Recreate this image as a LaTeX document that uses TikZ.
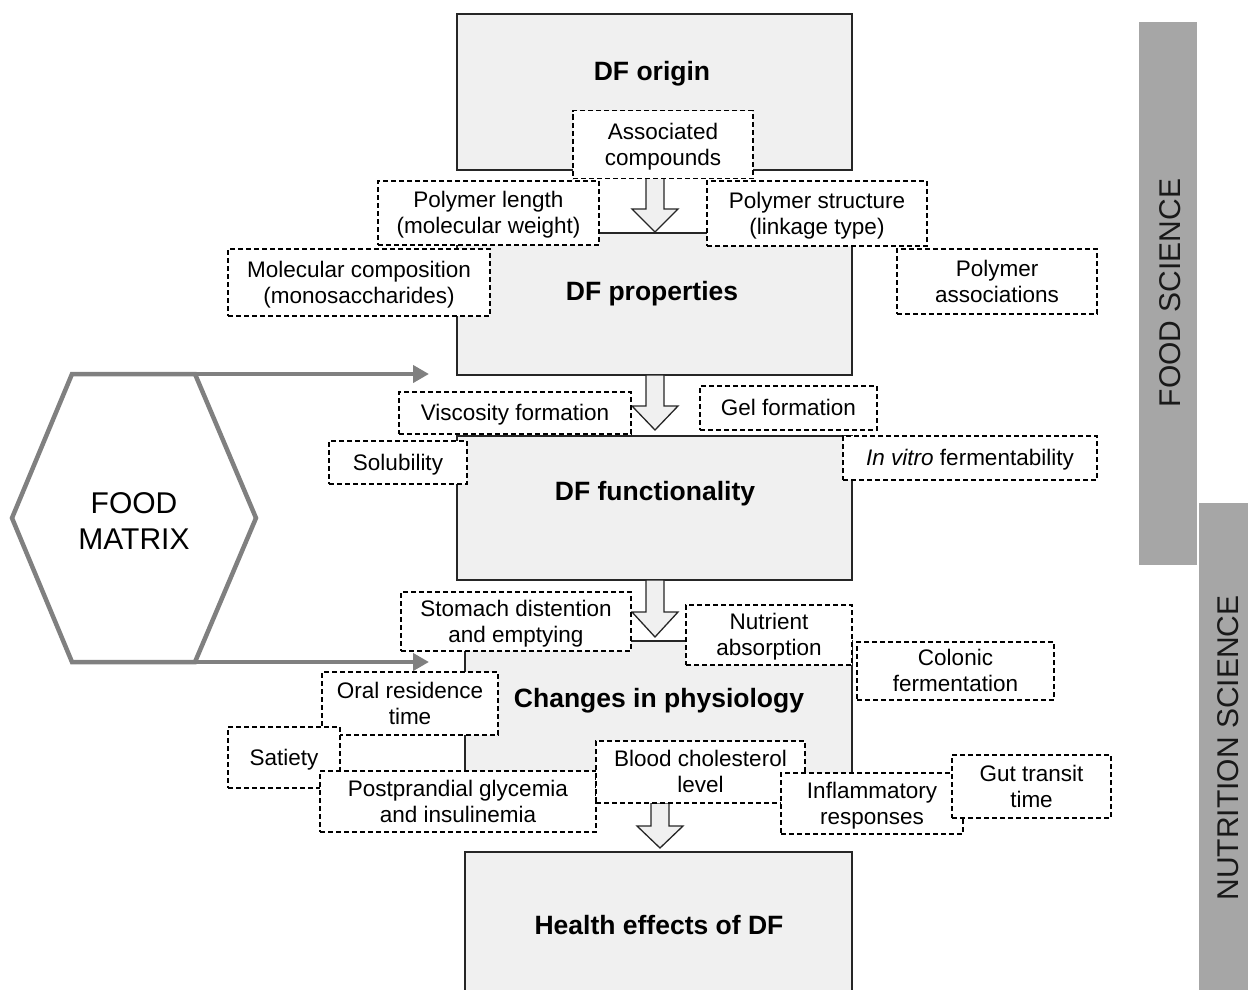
\documentclass[tikz,border=0pt]{standalone}
\usepackage{fontspec}
\setmainfont{Liberation Sans}
\usetikzlibrary{arrows.meta}
\definecolor{boxfill}{HTML}{F0F0F0}
\definecolor{hexgray}{HTML}{808080}
\definecolor{bargray}{HTML}{A6A6A6}
\newcommand{\blkarrow}[4]{%
  \draw[barrow] (#1-9,#2) -- (#1+9,#2) -- (#1+9,#3) -- (#1+23,#3) -- (#1,#4)
     -- (#1-23,#3) -- (#1-9,#3) -- cycle;}
\newcommand{\dbx}[6]{%
  \node[dbox, minimum width=#4pt, minimum height=#5pt] (#1) at (#2,#3) {};
  \node[dtext] (#1t) at (#2,#3+2.5) {\strut#6\strut};}
\begin{document}
\begin{tikzpicture}[x=1pt,y=-1pt,
  mainbox/.style={draw=black!85, fill=boxfill, line width=1.6pt, inner sep=0pt},
  dbox/.style={draw=black, fill=white, dash pattern=on 5pt off 3pt, line width=1.4pt,
     inner sep=0pt},
  dtext/.style={inner sep=0pt, align=center, font=\fontsize{22.5}{26}\selectfont},
  ttl/.style={font=\bfseries\fontsize{26.5}{30}\selectfont, inner sep=0pt, anchor=base},
  barrow/.style={draw=black!85, fill=boxfill, line width=1.3pt, line join=miter},
  garrow/.style={draw=hexgray, line width=4pt, -{Triangle[length=16pt,width=17pt]}},
  side/.style={rotate=90, font=\fontsize{30}{32}\selectfont, text=black!90, inner sep=0pt}]
\useasboundingbox (0,0) rectangle (1248,990);
\clip (0,0) rectangle (1248,990);

% side bars
\fill[bargray] (1139,22) rectangle (1197,565);
\fill[bargray] (1199,503) rectangle (1260,1000);
\node[side] (fs) at (1170,293) {FOOD SCIENCE};
\node[side] (ns) at (1228,748) {NUTRITION SCIENCE};

% main boxes
\node[mainbox, minimum width=395pt, minimum height=156pt] (origin) at (654.5,92) {};
\node[mainbox, minimum width=395pt, minimum height=142pt] (props) at (654.5,304) {};
\node[mainbox, minimum width=395pt, minimum height=144pt] (func) at (654.5,508) {};
\node[mainbox, minimum width=387pt, minimum height=154pt] (phys) at (658.5,718) {};
\node[mainbox, minimum width=387pt, minimum height=160pt] (health) at (658.5,932) {};

\node[ttl] (t1) at (652,80.5) {DF origin};
\node[ttl] (t2) at (652,300.5) {DF properties};
\node[ttl] (t3) at (655,500.5) {DF functionality};
\node[ttl] (t4) at (659,707.5) {Changes in physiology};
\node[ttl] (t5) at (659,934.5) {Health effects of DF};

% block arrows
\blkarrow{655}{178}{209}{232}
\blkarrow{655}{375}{406}{430}
\blkarrow{655}{580}{612}{637}
\blkarrow{660}{803}{826}{848}

% dashed boxes
\dbx{assoc}{663}{144.5}{180}{68}{Associated\\compounds}
\dbx{plen}{488.5}{213}{221}{64}{Polymer length\\(molecular weight)}
\dbx{pstr}{817}{213.5}{220}{65}{Polymer structure\\(linkage type)}
\dbx{molc}{359}{282.5}{262}{67}{Molecular composition\\(monosaccharides)}
\dbx{pass}{997}{281.5}{200}{65}{Polymer\\associations}
\dbx{visc}{515}{413}{232}{42}{Viscosity formation}
\dbx{gel}{788.5}{408}{177}{44}{Gel formation}
\dbx{solu}{398}{462.5}{138}{43}{Solubility}
\dbx{invi}{970}{458}{254}{44}{\textit{In vitro} fermentability}
\dbx{stom}{516}{621.5}{230}{59}{Stomach distention\\and emptying}
\dbx{nutr}{769}{635}{166}{60}{Nutrient\\absorption}
\dbx{colo}{955.5}{671}{197}{58}{Colonic\\fermentation}
\dbx{oral}{410}{703.5}{176}{63}{Oral residence\\time}
\dbx{sati}{284}{757.5}{112}{61}{Satiety}
\dbx{post}{458}{801.5}{276}{61}{Postprandial glycemia\\and insulinemia}
\dbx{bloo}{700.5}{772}{209}{62}{Blood cholesterol\\level}
\dbx{infl}{872}{803.5}{182}{61}{Inflammatory\\responses}
\dbx{gut}{1031.5}{786.5}{159}{63}{Gut transit\\time}

% food matrix hexagon
\coordinate (hl) at (12,518);
\coordinate (htl) at (72,374);
\coordinate (htr) at (195,374);
\coordinate (hr) at (256,518);
\coordinate (hbr) at (195,662);
\coordinate (hbl) at (72,662);
\draw[hexgray, line width=4.5pt, line join=miter] (hl) -- (htl) -- (htr) -- (hr) -- (hbr) -- (hbl) -- cycle;
\node[align=center, font=\fontsize{30}{36}\selectfont] (fm) at (134,521) {FOOD\\MATRIX};
\coordinate (a1) at (429,374);
\coordinate (a2) at (429,662);
\draw[garrow] (htr) -- (a1);
\draw[garrow] (hbr) -- (a2);
\end{tikzpicture}
\end{document}
